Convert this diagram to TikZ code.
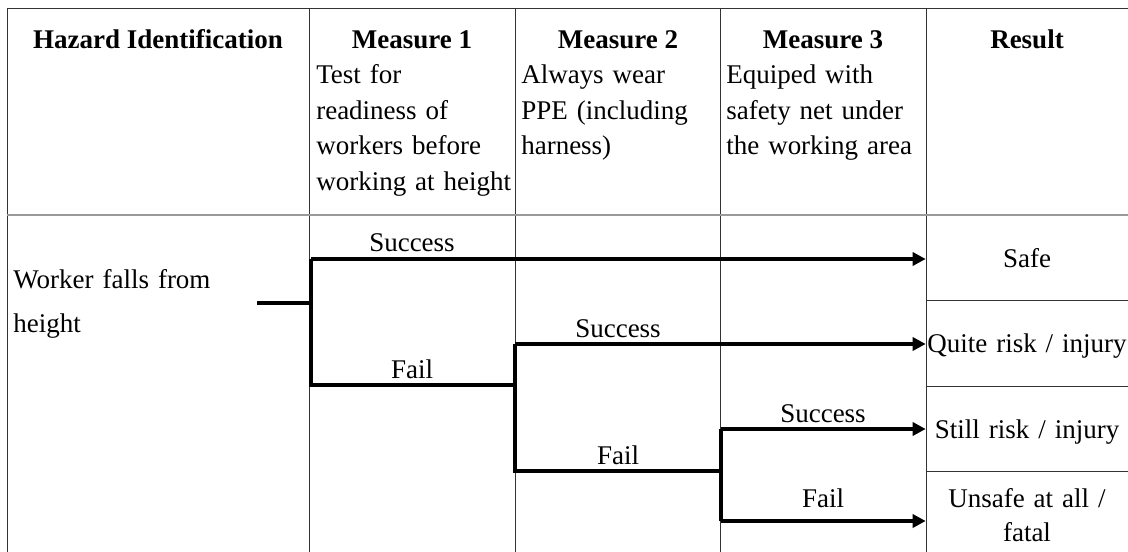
\documentclass[tikz,border=0pt]{standalone}
\usepackage{fontspec}
\setmainfont{Liberation Serif}
\usetikzlibrary{arrows.meta,positioning}
\tikzset{
  gridline/.style={draw=black!80,line width=0.7pt},
  branch/.style={draw,line width=2.7pt},
  every node/.style={font=\fontsize{19.2}{25.2}\selectfont},
}

\begin{document}
\begin{tikzpicture}[
  head/.style={anchor=base,inner sep=0pt,font=\fontsize{19.2}{25.2}\selectfont\bfseries},
  desc/.style={anchor=base west,inner sep=0pt,text width=5cm,align=left},
  lab/.style={anchor=base,inner sep=0pt},
  res/.style={anchor=base,inner sep=0pt,text width=5.05cm,align=center},
  tip/.style={-{Triangle[length=0.33cm,width=0.33cm]}}
]
\useasboundingbox (0,0) rectangle (28.2,-13.8);

% table lines
\draw[gridline] (0.175,-13.8) -- (0.175,-0.2) -- (28.2,-0.2);
\foreach \x in {7.725,12.875,18.0,23.15}
  \draw[gridline] (\x,-0.2) -- (\x,-13.8);
\draw[draw=black!40,line width=1.4pt] (0.175,-5.375) -- (28.2,-5.375);
\foreach \y in {-7.5,-9.65,-11.775}
  \draw[gridline] (23.15,\y) -- (28.2,\y);

% header row
\node[head] (hz) at (3.95,-1.225) {Hazard Identification};
\node[head] (m1) at (10.3,-1.225) {Measure 1};
\node[head] (m2) at (15.45,-1.225) {Measure 2};
\node[head] (m3) at (20.575,-1.225) {Measure 3};
\node[head] (rs) at (25.675,-1.225) {Result};

\node[desc] (d1) at (7.9,-2.1) {Test for\\readiness of\\workers before\\working at height};
\node[desc] (d2) at (13.025,-2.1) {Always wear\\PPE (including\\harness)};
\node[desc] (d3) at (18.15,-2.1) {Equiped with\\safety net under\\the working area};

\node[desc,font=\fontsize{19.2}{31.3}\selectfont] (hazard) at (0.325,-7.2) {Worker falls from\\height};

% outcomes
\node[res] (safe) at (25.675,-6.675) {Safe};
\node[res] (quite) at (25.675,-8.8) {Quite risk / injury};
\node[res] (still) at (25.675,-10.95) {Still risk / injury};
\node[res,font=\fontsize{19.2}{24.8}\selectfont] (fatal) at (25.675,-12.675) {Unsafe at all /\\fatal};

% branch points
\coordinate (start) at (6.425,-7.575);
\coordinate (s1) at (7.775,-6.475);
\coordinate (f1) at (7.775,-9.625);
\coordinate (s2) at (12.875,-8.6);
\coordinate (f2) at (12.875,-11.775);
\coordinate (s3) at (18.025,-10.725);
\coordinate (f3) at (18.025,-13.025);

\draw[branch] (start) -- (start -| s1);
\draw[branch] (s1) -- (f1) -- (f1 -| s2);
\draw[branch] (s2) -- (f2) -- (f2 -| s3);
\draw[branch] (s3) -- (f3);

\draw[branch,tip] (s1) -- (s1 -| safe.west);
\draw[branch,tip] (s2) -- (s2 -| quite.west);
\draw[branch,tip] (s3) -- (s3 -| still.west);
\draw[branch,tip] (f3) -- (f3 -| fatal.west);

\node[lab] (ok1) at (10.3,-6.275) {Success};
\node[lab] (no1) at (10.3,-9.45) {Fail};
\node[lab] (ok2) at (15.45,-8.425) {Success};
\node[lab] (no2) at (15.45,-11.6) {Fail};
\node[lab] (ok3) at (20.575,-10.55) {Success};
\node[lab] (no3) at (20.575,-12.675) {Fail};

\end{tikzpicture}
\end{document}
